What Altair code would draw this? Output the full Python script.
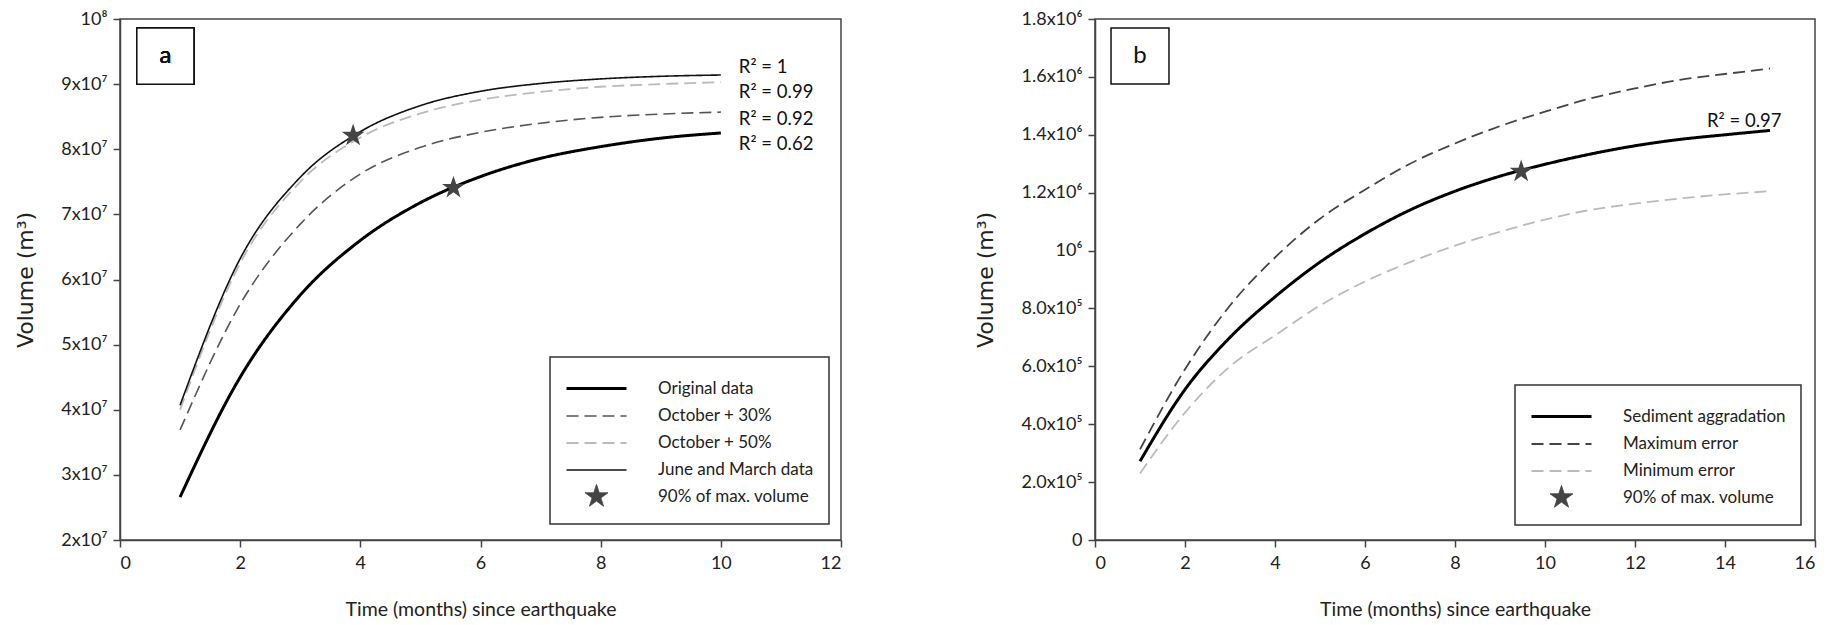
import altair as alt
import pandas as pd

# ---------------- Panel a data ----------------
a_months = [1, 2, 3, 4, 5, 6, 7, 8, 9, 10]
a_original = [2.66e7, 4.50e7, 5.76e7, 6.60e7, 7.18e7, 7.58e7, 7.86e7, 8.04e7, 8.17e7, 8.25e7]
a_oct30 = [3.69e7, 5.62e7, 6.85e7, 7.62e7, 8.03e7, 8.26e7, 8.40e7, 8.49e7, 8.54e7, 8.57e7]
a_oct50 = [4.00e7, 6.25e7, 7.50e7, 8.18e7, 8.55e7, 8.76e7, 8.88e7, 8.96e7, 9.00e7, 9.03e7]
a_junemar = [4.07e7, 6.32e7, 7.57e7, 8.27e7, 8.67e7, 8.89e7, 9.01e7, 9.08e7, 9.12e7, 9.14e7]
a_series = ["Original data", "October + 30%", "October + 50%", "June and March data"]
a_star_name = "90% of max. volume"
a_star_month = [3.88, 5.55]
a_star_volume = [8.21e7, 7.41e7]
a_r2_text = ["R² = 1", "R² = 0.99", "R² = 0.92", "R² = 0.62"]
a_r2_month = [10.3, 10.3, 10.3, 10.3]
a_r2_volume = [9.26e7, 8.88e7, 8.47e7, 8.08e7]
a_x_ticks = [0, 2, 4, 6, 8, 10, 12]
a_y_ticks = [2e7, 3e7, 4e7, 5e7, 6e7, 7e7, 8e7, 9e7, 1e8]
a_y_labels = ["2x10⁷", "3x10⁷", "4x10⁷", "5x10⁷", "6x10⁷", "7x10⁷", "8x10⁷", "9x10⁷", "10⁸"]

# ---------------- Panel b data ----------------
b_months = [1, 2, 3, 4, 5, 6, 7, 8, 9, 10, 11, 12, 13, 14, 15]
b_sediment = [0.272e6, 0.52e6, 0.70e6, 0.84e6, 0.96e6, 1.058e6, 1.14e6, 1.205e6, 1.257e6,
              1.298e6, 1.333e6, 1.362e6, 1.384e6, 1.40e6, 1.415e6]
b_max_err = [0.313e6, 0.59e6, 0.81e6, 0.976e6, 1.11e6, 1.21e6, 1.30e6, 1.37e6, 1.43e6,
             1.48e6, 1.525e6, 1.56e6, 1.59e6, 1.61e6, 1.629e6]
b_min_err = [0.23e6, 0.44e6, 0.60e6, 0.707e6, 0.81e6, 0.893e6, 0.96e6, 1.017e6, 1.065e6,
             1.107e6, 1.14e6, 1.162e6, 1.18e6, 1.194e6, 1.205e6]
b_series = ["Sediment aggradation", "Maximum error", "Minimum error"]
b_star_name = "90% of max. volume"
b_star_month = [9.47]
b_star_volume = [1.273e6]
b_r2_text = ["R² = 0.97"]
b_r2_month = [13.6]
b_r2_volume = [1.449e6]
b_x_ticks = [0, 2, 4, 6, 8, 10, 12, 14, 16]
b_y_ticks = [0, 2e5, 4e5, 6e5, 8e5, 1e6, 1.2e6, 1.4e6, 1.6e6, 1.8e6]
b_y_labels = ["0", "2.0x10⁵", "4.0x10⁵", "6.0x10⁵", "8.0x10⁵", "10⁶", "1.2x10⁶", "1.4x10⁶", "1.6x10⁶", "1.8x10⁶"]

X_TITLE = "Time (months) since earthquake"
Y_TITLE = "Volume (m³)"

FONT = "Lato"
YFONT = "DejaVu Sans"
# symbol shapes (unit box, scaled by sqrt(size)/2)
LINE = "M-2,0L2,0"
STAR = ("M0,-0.8L0.18,-0.247L0.761,-0.247L0.29,0.094L0.47,0.647L0,0.306"
        "L-0.47,0.647L-0.29,0.094L-0.761,-0.247L-0.18,-0.247Z")
SYM_SIZE = 900


def label_expr(values, labels):
    expr = "''"
    for v, lab in reversed(list(zip(values, labels))):
        expr = f"abs(datum.value - {float(v)}) < 1 ? '{lab}' : ({expr})"
    return expr


def make_panel(months, values, names, star_name, star_m, star_v, r2_text, r2_m, r2_v,
               x_dom, x_ticks, y_dom, y_ticks, y_labels, strokes, dashes, widths,
               letter, box, legend_xy, width, height, title_x):
    rows = []
    for name, vals in zip(names, values):
        for m, v in zip(months, vals):
            rows.append({"series": name, "month": m, "volume": v})
    lines_df = pd.DataFrame(rows)
    star_df = pd.DataFrame({"series": [star_name] * len(star_m), "month": star_m, "volume": star_v})
    r2_df = pd.DataFrame({"label": r2_text, "month": r2_m, "volume": r2_v})

    domain = names + [star_name]
    xs = alt.Scale(domain=x_dom, nice=False, zero=False)
    ys = alt.Scale(domain=y_dom, nice=False, zero=False)
    x_axis = alt.Axis(values=x_ticks, title=X_TITLE, grid=False, tickSize=7, labelPadding=7,
                      labelFont=FONT, labelFontSize=18, titleFont=FONT, titleFontSize=19.5,
                      titleFontWeight="normal", titleY=69, titleBaseline="middle")
    y_axis = alt.Axis(values=y_ticks, labelExpr=label_expr(y_ticks, y_labels), title=Y_TITLE,
                      grid=False, tickSize=7, labelPadding=6, labelFont=FONT, labelFontSize=18,
                      titleFont=YFONT, titleFontSize=22, titleFontWeight="normal",
                      titleX=title_x, titleAngle=-90, titleBaseline="middle")
    leg = alt.Legend(title=None, orient="none", legendX=legend_xy[0], legendY=legend_xy[1])

    stroke_range = strokes + ["#444444"]
    dash_range = dashes + [[1, 0]]
    width_range = widths + [1]
    fill_range = ["transparent"] * len(names) + ["#444444"]
    shape_range = [LINE] * len(names) + [STAR]

    def xq(field="month:Q"):
        return alt.X(field, scale=xs, axis=x_axis)

    def yq(field="volume:Q"):
        return alt.Y(field, scale=ys, axis=y_axis)

    lines = alt.Chart(lines_df).mark_line(interpolate="monotone").encode(
        x=xq(), y=yq(),
        detail="series:N",
        stroke=alt.Stroke("series:N", scale=alt.Scale(domain=domain, range=stroke_range), legend=leg),
        strokeDash=alt.StrokeDash("series:N", scale=alt.Scale(domain=domain, range=dash_range), legend=leg),
        strokeWidth=alt.StrokeWidth("series:N", scale=alt.Scale(type="ordinal", domain=domain, range=width_range), legend=leg),
    )
    stars = alt.Chart(star_df).mark_point(filled=True, size=SYM_SIZE, opacity=1).encode(
        x=xq(), y=yq(),
        fill=alt.Fill("series:N", scale=alt.Scale(domain=domain, range=fill_range), legend=leg),
        shape=alt.Shape("series:N", scale=alt.Scale(domain=domain, range=shape_range), legend=leg),
    )
    r2 = alt.Chart(r2_df).mark_text(align="left", baseline="middle", font=FONT, fontSize=18.5,
                                     color="#111111").encode(
        x=xq(), y=yq(), text="label:N",
    )
    rect = alt.Chart(r2_df).mark_rect(fill="white", stroke="#111111", strokeWidth=1.5).encode(
        x=alt.XDatum(box[0], scale=xs, axis=x_axis, type="quantitative"),
        x2=alt.X2Datum(box[1]),
        y=alt.YDatum(box[2], scale=ys, axis=y_axis, type="quantitative"),
        y2=alt.Y2Datum(box[3]),
    )
    letter_mark = alt.Chart(r2_df).mark_text(font=FONT, fontSize=24, color="#111111",
                                               baseline="middle", align="center").encode(
        x=alt.XDatum((box[0] + box[1]) / 2, scale=xs, axis=x_axis, type="quantitative"),
        y=alt.YDatum((box[2] + box[3]) / 2, scale=ys, axis=y_axis, type="quantitative"),
        text=alt.value(letter),
    )
    return alt.layer(lines, stars, r2, rect, letter_mark).properties(width=width, height=height)


left = make_panel(
    a_months, [a_original, a_oct30, a_oct50, a_junemar], a_series, a_star_name,
    a_star_month, a_star_volume, a_r2_text, a_r2_month, a_r2_volume,
    [0, 12], a_x_ticks, [2e7, 1e8], a_y_ticks, a_y_labels,
    ["#000000", "#555555", "#bbbbbb", "#111111"],
    [[1, 0], [12, 6], [12, 6], [1, 0]],
    [3, 1.6, 1.8, 1.6],
    "a", [0.28, 1.23, 9.86e7, 9.0e7], [430, 338], 721, 521, -95,
)

right = make_panel(
    b_months, [b_sediment, b_max_err, b_min_err], b_series, b_star_name,
    b_star_month, b_star_volume, b_r2_text, b_r2_month, b_r2_volume,
    [0, 16], b_x_ticks, [0, 1.8e6], b_y_ticks, b_y_labels,
    ["#000000", "#444444", "#bbbbbb"],
    [[1, 0], [12, 6], [12, 6]],
    [3, 1.8, 1.8],
    "b", [0.356, 1.644, 1.769e6, 1.5754e6], [420, 366], 720, 521, -110,
)

chart = alt.hconcat(left, right, spacing=130).properties(
    padding={"left": 5, "top": 1, "right": 5, "bottom": 5}
).resolve_scale(
    x="independent", y="independent", stroke="independent", strokeDash="independent",
    strokeWidth="independent", fill="independent", shape="independent"
).configure_view(
    stroke="#444444", strokeWidth=1.5
).configure_axis(
    domainColor="#444444", domainWidth=1.5, tickColor="#444444", tickWidth=1.5,
    labelColor="#222222", titleColor="#222222"
).configure_legend(
    labelFont=FONT, labelFontSize=17, labelColor="#222222", symbolSize=SYM_SIZE,
    symbolOffset=15, labelOffset=45,
    padding=15, rowPadding=3, strokeColor="#333333", strokeWidth=1.5, fillColor="white",
    symbolStrokeColor="#444444", labelLimit=400
)

chart.save("out.html", embed_options={"renderer": "svg", "actions": False})
